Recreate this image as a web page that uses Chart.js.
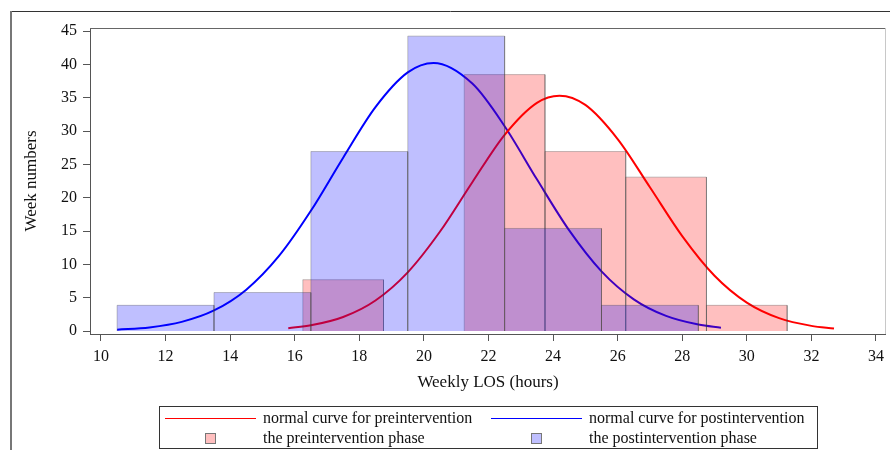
<!DOCTYPE html>
<html><head><meta charset="utf-8">
<script src="https://cdn.jsdelivr.net/npm/chart.js@4/dist/chart.umd.min.js"></script>
<style>
html,body{margin:0;padding:0;background:#fff;}
canvas{display:block;}
</style></head><body>
<canvas id="c" width="890" height="450"></canvas>
<script>
// ---- data ----
const preBinEdges  = [16.25, 18.75, 21.25, 23.75, 26.25, 28.75, 31.25];
const prePercent   = [7.69, 0, 38.46, 26.92, 23.08, 3.85];
const postBinEdges = [10.5, 13.5, 16.5, 19.5, 22.5, 25.5, 28.5];
const postPercent  = [3.85, 5.77, 26.92, 44.23, 15.38, 3.85];

const preCurveX  = [15.8, 16.5, 17.5, 18.5, 19.5, 20.5, 21.5, 22.5, 23.5, 24.2, 25, 26, 27, 28, 29, 30, 31, 32, 32.7];
const preCurveY  = [0.42, 0.85, 2.10, 4.58, 8.80, 14.92, 22.32, 29.43, 34.23, 35.3, 33.91, 28.79, 21.56, 14.24, 8.29, 4.26, 1.93, 0.77, 0.38];
const postCurveX = [10.5, 11.5, 12.5, 13.5, 14.5, 15.5, 16.5, 17.5, 18.5, 19.5, 20.3, 21.5, 22.5, 23.5, 24.5, 25.5, 26.5, 27.5, 28.5, 29.2];
const postCurveY = [0.19, 0.54, 1.37, 3.08, 6.20, 11.18, 18.03, 26.0, 33.58, 38.79, 40.2, 37.11, 30.72, 22.75, 15.09, 8.95, 4.75, 2.26, 0.96, 0.49];

const xTickValues = [10, 12, 14, 16, 18, 20, 22, 24, 26, 28, 30, 32, 34];
const yTickValues = [0, 5, 10, 15, 20, 25, 30, 35, 40, 45];
const xTitle = 'Weekly LOS (hours)';
const yTitle = 'Week numbers';
const legendLabels = ['normal curve for preintervention', 'normal curve for postintervention',
                      'the preintervention phase', 'the postintervention phase'];

// ---- build tables for the library ----
function histPoints(edges, vals) {
  const pts = [];
  vals.forEach((v, i) => {
    if (!v) return;
    const l = edges[i], r = edges[i + 1];
    if (pts.length) pts.push({x: l, y: null});
    pts.push({x: l, y: 0}, {x: l, y: v}, {x: r, y: v}, {x: r, y: 0});
  });
  return pts;
}
const zip = (xs, ys) => xs.map((x, i) => ({x, y: ys[i]}));

const RED = '#ff0000', BLUE = '#0000ff';
const RED_FILL = 'rgba(255,0,0,0.25)', BLUE_FILL = 'rgba(0,0,255,0.25)';
const BAR_EDGE = 'rgba(60,60,60,0.3)';
const FONT = '"Liberation Serif", "Times New Roman", serif';
Chart.defaults.font.family = FONT;
Chart.defaults.color = '#111';

const legendItems = [
  {text: legendLabels[0], kind: 'line', color: RED},
  {text: legendLabels[1], kind: 'line', color: BLUE},
  {text: legendLabels[2], kind: 'box', color: RED_FILL},
  {text: legendLabels[3], kind: 'box', color: BLUE_FILL}
];

const decor = {
  id: 'decor',
  afterDraw(chart) {
    const {ctx, chartArea: a} = chart;
    ctx.save();
    ctx.lineWidth = 1;
    ctx.strokeStyle = '#666';
    ctx.beginPath(); ctx.moveTo(a.left, a.top + 0.5); ctx.lineTo(a.right, a.top + 0.5); ctx.stroke();
    ctx.strokeStyle = '#c8c8c8';
    ctx.beginPath(); ctx.moveTo(a.right - 0.5, a.top); ctx.lineTo(a.right - 0.5, a.bottom); ctx.stroke();
    ctx.strokeStyle = '#333';
    ctx.beginPath(); ctx.moveTo(11, 11.5); ctx.lineTo(890, 11.5); ctx.stroke();
    ctx.strokeStyle = '#777'; ctx.lineWidth = 2;
    ctx.beginPath(); ctx.moveTo(11, 11); ctx.lineTo(11, 450); ctx.stroke();
    const cx = (a.left + a.right) / 2;
    const bx = Math.round(cx - 329) + 0.5, by = 406.5, bw = 658, bh = 42;
    ctx.lineWidth = 1; ctx.strokeStyle = '#333';
    ctx.strokeRect(bx, by, bw, bh);
    ctx.font = '16px ' + FONT;
    ctx.fillStyle = '#111';
    ctx.textBaseline = 'middle';
    ctx.textAlign = 'left';
    const cols = [bx + 5.5, bx + 331.5];
    const rows = [by + 11, by + 31];
    legendItems.forEach((it, i) => {
      const col = cols[i % 2], row = rows[Math.floor(i / 2)];
      if (it.kind === 'line') {
        ctx.strokeStyle = it.color; ctx.lineWidth = 1;
        ctx.beginPath(); ctx.moveTo(col, Math.round(row) + 0.5); ctx.lineTo(col + 91, Math.round(row) + 0.5); ctx.stroke();
      } else {
        const sx = Math.round(col + 40) + 0.5, sy = Math.round(row - 5) + 0.5;
        ctx.fillStyle = it.color; ctx.fillRect(sx, sy, 10, 10);
        ctx.strokeStyle = '#777'; ctx.strokeRect(sx, sy, 10, 10);
        ctx.fillStyle = '#111';
      }
      ctx.fillText(it.text, col + 98, row + 1);
    });
    ctx.restore();
  }
};

new Chart(document.getElementById('c'), {
  type: 'line',
  data: {
    datasets: [
      {label: legendLabels[3], data: histPoints(postBinEdges, postPercent), order: 0,
       backgroundColor: BLUE_FILL, borderColor: BAR_EDGE, borderWidth: 1, fill: 'origin',
       pointRadius: 0, tension: 0, spanGaps: false},
      {label: legendLabels[2], data: histPoints(preBinEdges, prePercent), order: 1,
       backgroundColor: RED_FILL, borderColor: BAR_EDGE, borderWidth: 1, fill: 'origin',
       pointRadius: 0, tension: 0, spanGaps: false},
      {label: legendLabels[0], data: zip(preCurveX, preCurveY), order: 2,
       borderColor: RED, borderWidth: 2, fill: false, pointRadius: 0, cubicInterpolationMode: 'monotone'},
      {label: legendLabels[1], data: zip(postCurveX, postCurveY), order: 3,
       borderColor: BLUE, borderWidth: 2, fill: false, pointRadius: 0, cubicInterpolationMode: 'monotone'}
    ]
  },
  options: {
    responsive: false,
    animation: false,
    events: [],
    devicePixelRatio: 1,
    layout: {padding: {left: 11, top: 28, right: 2, bottom: 56}},
    plugins: {legend: {display: false}, tooltip: {enabled: false}},
    scales: {
      x: {
        type: 'linear', min: 9.66, max: 34.31,
        afterBuildTicks: s => { s.ticks = xTickValues.map(v => ({value: v})); },
        afterFit: s => { s.height = 60; },
        ticks: {font: {size: 16}, padding: 6, color: '#111', maxRotation: 0, autoSkip: false},
        grid: {drawOnChartArea: false, drawTicks: true, tickLength: 7, color: '#555'},
        border: {display: true, color: '#555', width: 1},
        title: {display: true, text: xTitle, font: {size: 17}, color: '#111', padding: {top: 0, bottom: 1}}
      },
      y: {
        type: 'linear', min: -0.45, max: 45.45,
        afterBuildTicks: s => { s.ticks = yTickValues.map(v => ({value: v})); },
        afterFit: s => { s.width = 79; },
        ticks: {font: {size: 16}, padding: 6, color: '#111'},
        grid: {drawOnChartArea: false, drawTicks: true, tickLength: 7, color: '#555'},
        border: {display: true, color: '#555', width: 1},
        title: {display: true, text: yTitle, font: {size: 17}, color: '#111', padding: {top: 10, bottom: 0}}
      }
    }
  },
  plugins: [decor]
});
</script>
</body></html>
